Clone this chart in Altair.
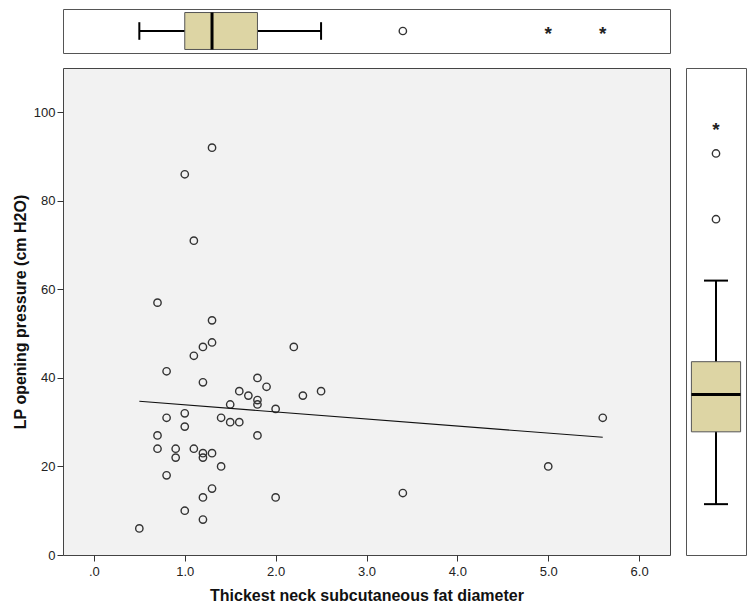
import altair as alt
import numpy as np
import pandas as pd

# ---- data ----
neck_fat = [1.3, 1.0, 1.1, 0.7, 1.3, 1.3, 1.2, 2.2, 1.1, 0.8, 1.2, 1.8, 1.9, 1.6, 1.7, 1.8,
            1.8, 1.5, 2.0, 2.3, 2.5, 1.0, 0.8, 1.4, 1.5, 1.6, 1.0, 1.8, 0.7, 0.7, 0.9, 0.9,
            1.1, 1.2, 1.2, 1.3, 1.4, 0.8, 1.3, 1.2, 2.0, 1.0, 1.2, 0.5, 5.6, 5.0, 3.4]
lp_pressure = [92, 86, 71, 57, 53, 48, 47, 47, 45, 41.5, 39, 40, 38, 37, 36, 35,
               34, 34, 33, 36, 37, 32, 31, 31, 30, 30, 29, 27, 27, 24, 24, 22,
               24, 23, 22, 23, 20, 18, 15, 13, 13, 10, 8, 6, 31, 20, 14]
x_ticks = [0, 1, 2, 3, 4, 5, 6]
y_ticks = [0, 20, 40, 60, 80, 100]

X_TITLE = "Thickest neck subcutaneous fat diameter"
Y_TITLE = "LP opening pressure (cm H2O)"

X_DOM = [-0.34, 6.34]
Y_DOM = [0, 110]
BOX_Y_DOM = [-5.6, 105.5]

FONT = "Liberation Sans"
BOX_FILL = "#ddd5a4"
BOX_STROKE = "#555555"
PT_COLOR = "#333333"


def tukey_stats(vals):
    v = np.sort(np.asarray(vals, dtype=float))
    n = len(v)
    half = (n + 1) // 2
    q1 = float(np.median(v[:half]))
    q3 = float(np.median(v[n - half:]))
    med = float(np.median(v))
    iqr = q3 - q1
    lo = float(v[v >= q1 - 1.5 * iqr].min())
    hi = float(v[v <= q3 + 1.5 * iqr].max())
    stats = pd.DataFrame([{"lo": lo, "q1": q1, "med": med, "q3": q3, "hi": hi}])
    outs = []
    for val in v:
        d = max(q1 - val, val - q3)
        if d > 3 * iqr:
            outs.append({"v": float(val), "kind": "extreme"})
        elif d > 1.5 * iqr:
            outs.append({"v": float(val), "kind": "outlier"})
    return stats, pd.DataFrame(outs, columns=["v", "kind"])


df = pd.DataFrame({"x": neck_fat, "y": lp_pressure})

xs = alt.Scale(domain=X_DOM, nice=False, zero=False)
ys = alt.Scale(domain=Y_DOM, nice=False, zero=False)
unit = alt.Scale(domain=[0, 1], nice=False, zero=False)

# ---- main scatter ----
points = alt.Chart(df).mark_point(
    shape="circle", filled=False, size=54, strokeWidth=1.4, color=PT_COLOR, opacity=1
).encode(
    x=alt.X("x:Q", scale=xs, axis=alt.Axis(
        values=x_ticks, title=X_TITLE, grid=False, domain=False,
        labelExpr="datum.value == 0 ? '.0' : format(datum.value, '.1f')",
        labelPadding=4, titlePadding=9)),
    y=alt.Y("y:Q", scale=ys, axis=alt.Axis(
        values=y_ticks, title=Y_TITLE, grid=False, domain=False,
        labelPadding=2, titlePadding=5)),
)
reg = alt.Chart(df).transform_regression("x", "y").mark_line(
    color="#111111", strokeWidth=1.1
).encode(x=alt.X("x:Q", scale=xs), y=alt.Y("y:Q", scale=ys))

main = alt.layer(points, reg).properties(
    width=607, height=487,
    view=alt.ViewBackground(fill="#f2f2f2", stroke="#444444", strokeWidth=1),
)

# ---- top boxplot (horizontal) ----
xst, xout = tukey_stats(neck_fat)
tb = alt.Chart(xst)
t_whisk = tb.mark_rule(color="black", strokeWidth=2).encode(
    x=alt.X("lo:Q", scale=xs, axis=None), x2="hi:Q",
    y=alt.Y(datum=0.5, scale=unit, axis=None))
t_cap_lo = tb.mark_rule(color="black", strokeWidth=2).encode(
    x=alt.X("lo:Q", scale=xs, axis=None),
    y=alt.Y(datum=0.3, scale=unit, axis=None), y2=alt.datum(0.7))
t_cap_hi = tb.mark_rule(color="black", strokeWidth=2).encode(
    x=alt.X("hi:Q", scale=xs, axis=None),
    y=alt.Y(datum=0.3, scale=unit, axis=None), y2=alt.datum(0.7))
t_box = tb.mark_rect(fill=BOX_FILL, stroke=BOX_STROKE, strokeWidth=1).encode(
    x=alt.X("q1:Q", scale=xs, axis=None), x2="q3:Q",
    y=alt.Y(datum=0.08, scale=unit, axis=None), y2=alt.datum(0.92))
t_med = tb.mark_rule(color="black", strokeWidth=3).encode(
    x=alt.X("med:Q", scale=xs, axis=None),
    y=alt.Y(datum=0.08, scale=unit, axis=None), y2=alt.datum(0.92))
t_circ = alt.Chart(xout).transform_filter("datum.kind == 'outlier'").mark_point(
    shape="circle", filled=False, size=54, strokeWidth=1.4, color=PT_COLOR, opacity=1
).encode(x=alt.X("v:Q", scale=xs, axis=None), y=alt.Y(datum=0.5, scale=unit, axis=None))
t_star = alt.Chart(xout).transform_filter("datum.kind == 'extreme'").mark_text(
    text="*", font=FONT, fontSize=19, fontWeight="bold", color="#222222",
    baseline="middle", dy=3
).encode(x=alt.X("v:Q", scale=xs, axis=None), y=alt.Y(datum=0.5, scale=unit, axis=None))

top = alt.layer(t_whisk, t_cap_lo, t_cap_hi, t_box, t_med, t_circ, t_star).properties(
    width=607, height=44,
    view=alt.ViewBackground(fill="white", stroke="#555555", strokeWidth=1),
)

# ---- right boxplot (vertical) ----
yst, yout = tukey_stats(lp_pressure)
bys = alt.Scale(domain=BOX_Y_DOM, nice=False, zero=False)
rb = alt.Chart(yst)
r_whisk = rb.mark_rule(color="black", strokeWidth=2).encode(
    y=alt.Y("lo:Q", scale=bys, axis=None), y2="hi:Q",
    x=alt.X(datum=0.5, scale=unit, axis=None))
r_cap_lo = rb.mark_rule(color="black", strokeWidth=2).encode(
    y=alt.Y("lo:Q", scale=bys, axis=None),
    x=alt.X(datum=0.3, scale=unit, axis=None), x2=alt.datum(0.7))
r_cap_hi = rb.mark_rule(color="black", strokeWidth=2).encode(
    y=alt.Y("hi:Q", scale=bys, axis=None),
    x=alt.X(datum=0.3, scale=unit, axis=None), x2=alt.datum(0.7))
r_box = rb.mark_rect(fill=BOX_FILL, stroke=BOX_STROKE, strokeWidth=1).encode(
    y=alt.Y("q1:Q", scale=bys, axis=None), y2="q3:Q",
    x=alt.X(datum=0.09, scale=unit, axis=None), x2=alt.datum(0.91))
r_med = rb.mark_rule(color="black", strokeWidth=3).encode(
    y=alt.Y("med:Q", scale=bys, axis=None),
    x=alt.X(datum=0.09, scale=unit, axis=None), x2=alt.datum(0.91))
r_circ = alt.Chart(yout).transform_filter("datum.kind == 'outlier'").mark_point(
    shape="circle", filled=False, size=54, strokeWidth=1.4, color=PT_COLOR, opacity=1
).encode(y=alt.Y("v:Q", scale=bys, axis=None), x=alt.X(datum=0.5, scale=unit, axis=None))
r_star = alt.Chart(yout).transform_filter("datum.kind == 'extreme'").mark_text(
    text="*", font=FONT, fontSize=19, fontWeight="bold", color="#222222",
    baseline="middle", dy=3
).encode(y=alt.Y("v:Q", scale=bys, axis=None), x=alt.X(datum=0.5, scale=unit, axis=None))

right = alt.layer(r_whisk, r_cap_lo, r_cap_hi, r_box, r_med, r_circ, r_star).properties(
    width=60, height=487,
    view=alt.ViewBackground(fill="white", stroke="#555555", strokeWidth=1),
)

row = alt.hconcat(main, right, spacing=16, bounds="flush")
chart = alt.vconcat(top, row, spacing=15, bounds="flush").properties(
    padding={"left": 3, "top": 0, "right": 0, "bottom": 0}
).configure_axis(
    labelFont=FONT, labelFontSize=13, labelColor="#222222",
    titleFont=FONT, titleFontSize=16, titleFontWeight="bold", titleColor="#111111",
    tickColor="#333333", tickSize=6, tickWidth=1,
).configure_view(stroke=None)

chart.save("out.html", embed_options={"renderer": "svg", "actions": False})
